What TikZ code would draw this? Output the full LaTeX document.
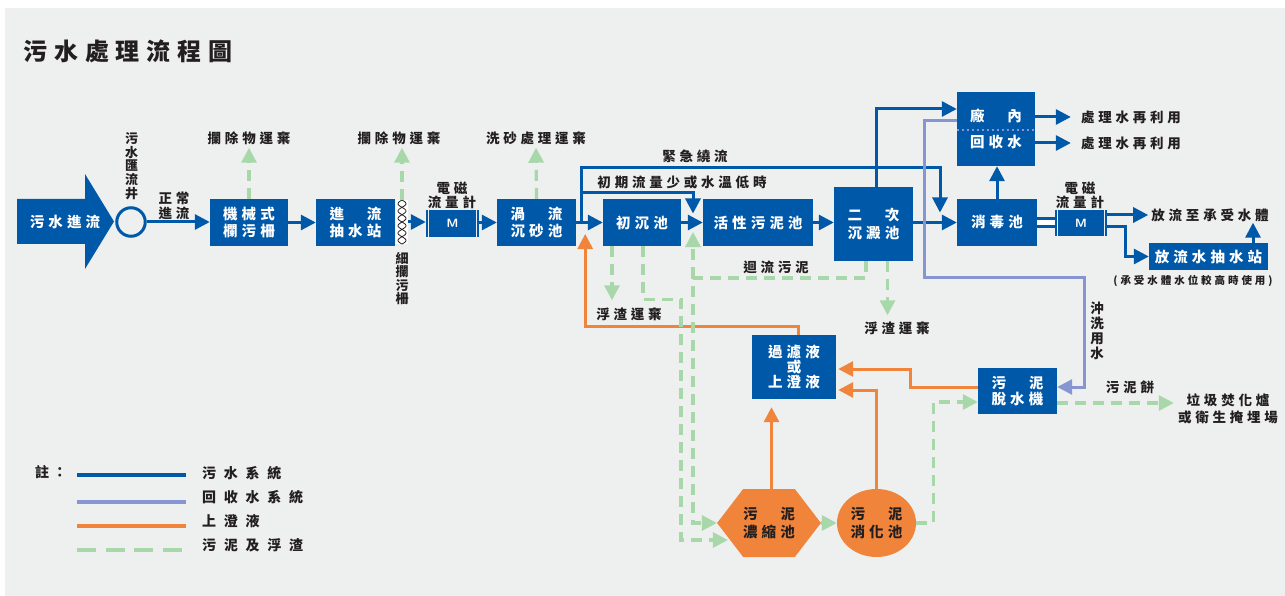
\documentclass[tikz,border=0pt]{standalone}
\usepackage{fontspec}
\usepackage{tikz}
\usetikzlibrary{arrows.meta, shapes.geometric, shapes.symbols}

\newfontfamily\cjk[LetterSpace=28]{Noto Sans CJK TC}
\newfontfamily\cjkwide[LetterSpace=55]{Noto Sans CJK TC}
\newfontfamily\cjkv{Noto Sans CJK TC}

\definecolor{swblue}{HTML}{0058A9}
\definecolor{rcpurple}{HTML}{8796D2}
\definecolor{lqorange}{HTML}{F0843A}
\definecolor{sdgreen}{HTML}{A8D8AA}
\definecolor{bggrey}{HTML}{EEEFEF}
\definecolor{txtdark}{HTML}{231F20}

\begin{document}
\begin{tikzpicture}[
    x=1pt, y=-1pt,
    box/.style={rectangle, fill=swblue, text=white, font=\cjk\bfseries\fontsize{14.5}{16.5}\selectfont, align=center, inner sep=0pt},
    tank/.style={fill=lqorange, text=txtdark, font=\cjk\bfseries\fontsize{14.5}{18}\selectfont, align=center, inner sep=0pt},
    lbl/.style={font=\cjk\bfseries\fontsize{13.5}{15}\selectfont, text=txtdark, align=center, inner sep=0pt},
    vlbl/.style={font=\cjkv\bfseries\fontsize{13}{13.6}\selectfont, text=txtdark, align=center, inner sep=0pt},
    tip/.style={-{Triangle[length=15pt, width=15pt]}},
    flow/.style={draw=swblue, line width=3pt, tip},
    pipe/.style={draw=swblue, line width=3pt, double=white, double distance=5pt},
    recycle/.style={draw=rcpurple, line width=3pt, tip},
    liquor/.style={draw=lqorange, line width=3pt, tip},
    sludge/.style={draw=sdgreen, line width=3.2pt, dash pattern=on 11pt off 7pt, tip},
]

% Background
\fill[white] (0,0) rectangle (1285,596);
\fill[bggrey] (5,8) rectangle (1285,596);
\useasboundingbox (0,0) rectangle (1285,596);

% Title
\node[lbl, font=\cjk\bfseries\fontsize{24}{26}\selectfont] (title) at (128,51) {污水處理流程圖};

% Inlet and well
\fill[swblue] (17,199) -- (85,199) -- (85,174) -- (114,221.5) -- (85,269) -- (85,244) -- (17,244) -- cycle;
\node[box, fill=none] (inlet) at (65,222) {污水進流};
\node[circle, draw=swblue, line width=3pt, minimum size=28.5pt, inner sep=0pt] (well) at (131,222) {};
\node[vlbl] (welltxt) at (131.5,166) {污\\水\\匯\\流\\井};
\node[lbl, font=\cjk\bfseries\fontsize{13.5}{15}\selectfont] (normal) at (174,205.5) {正常\\進流};

% Main line boxes
\node[box, minimum width=78pt, minimum height=47pt] (mscreen) at (249,222.5) {機械式\\欄污柵};
\node[box, minimum width=79pt, minimum height=47pt] (pump) at (355.5,222.5) {進　流\\抽水站};
\node[rectangle, fill=white, minimum width=12pt, minimum height=44pt, inner sep=0pt] (fscreen) at (402,222) {};
\node[box, minimum width=53pt, minimum height=27pt, font=\sffamily\bfseries\fontsize{12}{14}\selectfont] (meterA) at (452.5,223.5) {M};
\node[box, minimum width=79pt, minimum height=47pt] (grit) at (536.5,222.5) {渦　流\\沉砂池};
\node[box, minimum width=78pt, minimum height=47pt] (primary) at (642,222.5) {初沉池};
\node[box, minimum width=110pt, minimum height=47pt] (aeration) at (758,222.5) {活性污泥池};
\node[box, minimum width=79pt, minimum height=74pt] (secondary) at (873.5,224) {二　次\\[2pt]沉澱池};
\node[box, minimum width=78pt, minimum height=74pt] (reuse) at (996,129) {廠　內\\[9.5pt]回收水};
\node[box, minimum width=80pt, minimum height=47pt] (disinfect) at (997,222.5) {消毒池};
\node[box, minimum width=52pt, minimum height=26pt, font=\sffamily\bfseries\fontsize{12}{14}\selectfont] (meterB) at (1081,223) {M};
\node[box, minimum width=119pt, minimum height=27pt] (effpump) at (1208.5,256.5) {放流水抽水站};

% Sludge line
\node[box, minimum width=84pt, minimum height=64pt, font=\cjk\bfseries\fontsize{14.5}{15}\selectfont] (filtrate) at (794,367) {過濾液\\或\\上澄液};
\node[box, minimum width=79pt, minimum height=46pt] (dewater) at (1017.5,391) {污　泥\\脫水機};
\node[tank, signal, signal to=west and east, signal pointer angle=105, minimum width=103pt, minimum height=68pt] (thick) at (769,523) {污　泥\\濃縮池};
\node[tank, ellipse, minimum width=79pt, minimum height=68pt] (digest) at (876.5,523) {污　泥\\消化池};

% Labels
\node[lbl] (rubA) at (249,138) {攔除物運棄};
\node[lbl] (rubB) at (399,138) {攔除物運棄};
\node[lbl] (sand) at (536,138) {洗砂處理運棄};
\node[vlbl] (fstxt) at (402,278.5) {細\\攔\\污\\柵};
\node[lbl, font=\cjk\bfseries\fontsize{13.5}{14}\selectfont] (meterAtxt) at (452,195) {電磁\\流量計};
\node[lbl] (emerg) at (695,156) {緊急繞流};
\node[lbl] (lowflow) at (682,182) {初期流量少或水溫低時};
\node[lbl] (return) at (776,267) {迴流污泥};
\node[lbl] (scumA) at (629,314) {浮渣運棄};
\node[lbl] (scumB) at (897,328) {浮渣運棄};
\node[lbl] (reuseA) at (1131,117) {處理水再利用};
\node[lbl] (reuseB) at (1131,143) {處理水再利用};
\node[lbl, font=\cjk\bfseries\fontsize{13.5}{14}\selectfont] (meterBtxt) at (1080,195) {電磁\\流量計};
\node[lbl] (discharge) at (1210,215) {放流至承受水體};
\node[lbl, font=\cjk\bfseries\fontsize{10.5}{12}\selectfont] (note) at (1193,281) {(承受水體水位較高時使用)};
\node[vlbl, font=\cjkv\bfseries\fontsize{13.5}{15}\selectfont] (washtxt) at (1097,330.5) {沖\\洗\\用\\水};
\node[lbl] (cake) at (1130,387) {污泥餅};
\node[lbl, font=\cjk\bfseries\fontsize{13.5}{17}\selectfont] (disposal) at (1228,408.5) {垃圾焚化爐\\或衛生掩埋場};

% Junctions
\coordinate (bypass) at ([xshift=5pt]grit.east);
\coordinate (joinA) at (693,222.5);
\coordinate (joinD) at (940,222.5);
\coordinate (retjoin) at (693,278);

% Screen and meter details
\draw[txtdark, line width=0.8pt] plot[domain=0:44, samples=60] ({402+4*sin(\x*24.5)}, {200+\x});
\draw[txtdark, line width=0.8pt] plot[domain=0:44, samples=60] ({402-4*sin(\x*24.5)}, {200+\x});
\foreach \m in {meterA, meterB} {
  \draw[bggrey, line width=1pt] ([xshift=3pt]\m.south west) -- ([xshift=3pt]\m.north west)
                                ([xshift=-3pt]\m.south east) -- ([xshift=-3pt]\m.north east);
}

% Sewage flow
\draw[flow] (well.east) -- (mscreen.west |- well.east);
\draw[flow] (mscreen) -- (pump);
\draw[flow] (fscreen.east) -- (fscreen.east -| meterA.west);
\draw[flow] (meterA.east |- grit) -- (grit);
\draw[flow] (grit) -- (primary);
\draw[flow] (primary) -- (aeration);
\draw[flow] (aeration) -- (aeration -| secondary.west);
\draw[flow] (secondary.east |- disinfect) -- (disinfect);
\draw[flow] (bypass) -- ++(0,-54.5) -| ([yshift=10pt]joinD);
\draw[flow] ([yshift=29.5pt]bypass) -| ([yshift=9pt]joinA);
\draw[flow] ([xshift=2.5pt]secondary.north) |- ([yshift=20pt]reuse.west);
\draw[flow] (disinfect.north) -- (disinfect.north |- reuse.south);
\draw[flow] (reuse.east |- reuseA) -- ([xshift=-10pt]reuseA.west);
\draw[flow] (reuse.east |- reuseB) -- ([xshift=-10pt]reuseB.west);
\draw[pipe] (disinfect.east |- meterB) -- (meterB.west);
\draw[flow] (meterB.east |- discharge) -- ([xshift=-3pt]discharge.west);
\draw[flow] ([yshift=-4pt]meterB.east) -- ++(18,0) |- (effpump.west);
\draw[flow, shorten >=1pt] ([xshift=44.5pt]effpump.north) -- ([xshift=43pt]discharge.south);

% Recycled water
\draw[rcpurple, line width=2.5pt, dash pattern=on 2.5pt off 2.5pt] ([yshift=-1pt]reuse.west) -- ([yshift=-1pt]reuse.east);
\draw[recycle] ([yshift=8pt]reuse.west) -- ++(-32,0) -- ++(0,156) -| ([xshift=27pt,yshift=4pt]dewater.east) -- ([yshift=4pt]dewater.east);

% Supernatant
\draw[liquor, shorten >=8pt] ([xshift=2.5pt]thick.north) -- ([xshift=2.5pt]thick.north |- filtrate.south);
\draw[liquor, shorten >=2pt] (digest.north) |- ([yshift=-23pt]filtrate.east);
\draw[liquor, shorten >=2pt] ([yshift=4pt]dewater.west) -- ++(-67,0) |- ([yshift=-2pt]filtrate.east);
\draw[liquor] ([xshift=4pt]filtrate.north) -- ++(0,-8) -| ([xshift=4pt,yshift=-11.5pt]bypass);

% Sludge and scum
\draw[sludge, shorten >=3pt] (mscreen.north) -- (rubA.south);
\draw[sludge, shorten >=3pt] (fscreen.north) -- (fscreen.north |- rubB.south);
\draw[sludge, shorten >=3pt] (grit.north) -- (sand.south);
\draw[sludge, shorten >=7pt] ([xshift=-30pt]primary.south) -- ([xshift=-30pt]primary.south |- scumA.north);
\draw[sludge] ([xshift=1pt]primary.south) -- ++(0,53) -- ++(38,0) |- ([xshift=11pt,yshift=-17pt]thick.west);
\draw[sludge] ([xshift=-7.5pt]secondary.south) |- (retjoin) |- (thick.west);
\draw[sludge] (retjoin) -- ([yshift=-9.5pt]joinA);
\draw[sludge, shorten >=6pt] ([xshift=14pt]secondary.south) -- ([xshift=14pt]secondary.south |- scumB.north);
\draw[sludge] (thick.east) -- (digest.west);
\draw[sludge] (digest.east) -- ++(17,0) |- ([yshift=-11pt]dewater.west);
\draw[sludge, shorten >=4pt] ([yshift=-12pt]dewater.east) -- ([yshift=-12pt]dewater.east -| disposal.west);

% Legend
\node[lbl, font=\cjk\bfseries\fontsize{14}{16}\selectfont] (legtitle) at (51,472) {註：};
\node[lbl, anchor=west, font=\cjkwide\bfseries\fontsize{14}{16}\selectfont] (legA) at (202,473) {污水系統};
\node[lbl, anchor=west, font=\cjkwide\bfseries\fontsize{14}{16}\selectfont] (legB) at (202,497.5) {回收水系統};
\node[lbl, anchor=west, font=\cjkwide\bfseries\fontsize{14}{16}\selectfont] (legC) at (202,521) {上澄液};
\node[lbl, anchor=west, font=\cjkwide\bfseries\fontsize{14}{16}\selectfont] (legD) at (202,545.5) {污泥及浮渣};
\draw[swblue, line width=3.3pt] (77,475) -- (186,475);
\draw[rcpurple, line width=3.3pt] (77,502) -- (186,502);
\draw[lqorange, line width=3.3pt] (77,526) -- (186,526);
\draw[sdgreen, line width=3.3pt, dash pattern=on 19pt off 9.5pt] (77,550) -- (186,550);

\end{tikzpicture}
\end{document}
